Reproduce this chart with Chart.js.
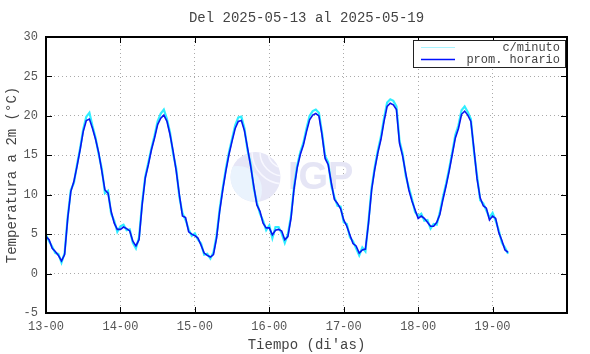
<!DOCTYPE html>
<html>
<head>
<meta charset="utf-8">
<script src="https://cdn.jsdelivr.net/npm/chart.js"></script>
<style>
    html, body { margin: 0; padding: 0; background: #fff; }
    #wrap { width: 590px; height: 354px; }
</style>
</head>
<body>
<div id="wrap"><canvas id="tempChart" width="590" height="354"></canvas></div>
<script>
// dias del periodo (eje x en horas desde 13-00)
const dias = ['13', '14', '15', '16', '17', '18', '19', '20'];
const yTicks = [-5, 0, 5, 10, 15, 20, 25, 30];

// promedio horario (°C), una lectura por hora
const horario13 = [4.7, 4.3, 3.2, 2.8, 2.3, 1.6, 2.4, 7.0, 10.4, 11.7, 13.6, 15.7, 18.0, 19.4, 19.6, 18.4, 17.0, 15.3, 13.0, 10.6, 10.2, 7.9, 6.4, 5.6];
const horario14 = [5.6, 5.9, 5.7, 5.4, 4.1, 3.5, 4.3, 8.7, 12.1, 13.8, 15.7, 17.2, 18.9, 19.7, 20.1, 19.3, 17.6, 15.5, 13.0, 10.0, 7.3, 7.1, 5.3, 5.0];
const horario15 = [4.8, 4.5, 3.6, 2.6, 2.3, 2.1, 2.4, 4.5, 7.9, 10.6, 13.0, 15.1, 16.8, 18.4, 19.3, 19.4, 18.1, 15.9, 13.6, 11.1, 8.7, 7.9, 6.4, 5.8];
const horario16 = [5.8, 4.9, 5.5, 5.6, 5.4, 4.3, 4.7, 7.0, 10.8, 13.4, 15.1, 16.3, 18.0, 19.5, 20.1, 20.3, 20.0, 17.6, 14.6, 13.8, 11.5, 9.4, 8.9, 8.2];
const horario17 = [6.8, 6.0, 4.9, 3.8, 3.5, 2.6, 3.0, 3.1, 6.4, 10.6, 13.2, 15.3, 17.0, 19.3, 21.2, 21.6, 21.4, 20.8, 16.5, 14.9, 12.7, 10.6, 9.2, 8.1];
const horario18 = [7.0, 7.3, 7.0, 6.5, 6.0, 6.0, 6.5, 7.5, 9.4, 11.1, 13.0, 15.1, 17.2, 18.4, 20.2, 20.6, 20.1, 19.3, 15.8, 12.0, 9.6, 8.6, 8.3, 6.8];
const horario19 = [7.3, 7.0, 5.2, 4.2, 3.0, 2.7];

// c/minuto (lecturas con picos, leidas a la misma hora)
const minuto13 = [4.9, 4.1, 3.4, 2.6, 2.5, 1.4, 2.6, 7.2, 10.6, 11.5, 13.8, 15.9, 18.3, 19.9, 20.4, 18.7, 17.2, 15.1, 13.3, 10.2, 10.5, 7.6, 6.7, 5.3];
const minuto14 = [6.0, 6.2, 5.5, 5.6, 3.9, 3.2, 4.6, 9.0, 12.3, 14.1, 15.9, 17.5, 19.3, 20.3, 20.8, 19.6, 17.9, 15.2, 13.3, 9.7, 7.7, 6.8, 5.6, 4.8];
const minuto15 = [5.1, 4.3, 3.8, 2.4, 2.5, 1.9, 2.7, 4.8, 8.2, 10.9, 13.3, 15.4, 17.1, 18.8, 19.8, 19.9, 18.4, 15.6, 13.9, 10.8, 9.0, 7.6, 6.7, 5.5];
const minuto16 = [6.1, 4.5, 5.9, 5.9, 5.1, 3.9, 5.0, 7.3, 11.1, 13.7, 15.4, 16.6, 18.4, 20.0, 20.6, 20.8, 20.4, 17.9, 14.9, 14.1, 11.2, 9.7, 8.6, 8.5];
const minuto17 = [6.5, 6.3, 4.6, 4.1, 3.2, 2.3, 3.3, 2.8, 6.7, 10.9, 13.5, 15.6, 17.4, 19.7, 21.7, 22.1, 21.9, 21.2, 16.8, 15.2, 12.4, 10.9, 9.5, 7.8];
const minuto18 = [7.3, 7.6, 6.7, 6.8, 5.7, 6.3, 6.2, 7.8, 9.7, 11.4, 13.3, 15.4, 17.6, 18.8, 20.7, 21.2, 20.5, 19.6, 15.5, 12.4, 9.3, 8.9, 8.0, 7.1];
const minuto19 = [7.7, 6.7, 5.5, 3.9, 3.3, 2.5];

const FONT = "'Liberation Mono', 'DejaVu Sans Mono', monospace";

document.addEventListener('DOMContentLoaded', () => {
    renderChart();
});

function toPoints(days) {
    const pts = [];
    days.forEach((vals, d) => {
        vals.forEach((v, h) => pts.push({ x: d * 24 + h, y: v }));
    });
    return pts;
}

// marco negro, marcas de ticks hacia adentro, titulo, leyenda
const framePlugin = {
    id: 'frame',
    beforeDatasetsDraw(chart) {
        const ctx = chart.ctx;
        ctx.save();
        // logo de fondo
        ctx.fillStyle = '#e6e6f6';
        ctx.beginPath();
        ctx.arc(255.5, 177, 25, 0, Math.PI * 2);
        ctx.fill();
        ctx.save();
        ctx.clip();
        ctx.fillStyle = '#eaf3fd';
        ctx.beginPath();
        ctx.arc(238, 190, 24, 0, Math.PI * 2);
        ctx.fill();
        ctx.strokeStyle = '#f8f8ff';
        ctx.lineWidth = 1.5;
        [16, 24, 32].forEach(r => {
            ctx.beginPath();
            ctx.arc(284, 152, r, Math.PI * 0.5, Math.PI * 1.1);
            ctx.stroke();
        });
        ctx.restore();
        ctx.fillStyle = '#e5e5f5';
        ctx.font = "bold 38px 'Liberation Sans', Arial, sans-serif";
        ctx.textAlign = 'left';
        ctx.textBaseline = 'alphabetic';
        ctx.fillText('IGP', 288, 189);
        ctx.restore();
    },
    afterDraw(chart) {
        const ctx = chart.ctx;
        const a = chart.chartArea;
        const xs = chart.scales.x;
        const ys = chart.scales.y;
        ctx.save();
        ctx.strokeStyle = '#000';
        ctx.lineWidth = 1;
        for (let d = 1; d < 7; d++) {
            const px = Math.round(xs.getPixelForValue(d * 24)) + 0.5;
            ctx.beginPath();
            ctx.moveTo(px, a.top); ctx.lineTo(px, a.top + 6);
            ctx.moveTo(px, a.bottom); ctx.lineTo(px, a.bottom - 6);
            ctx.stroke();
        }
        yTicks.forEach(t => {
            const py = Math.round(ys.getPixelForValue(t)) + 0.5;
            ctx.beginPath();
            ctx.moveTo(a.left, py); ctx.lineTo(a.left + 6, py);
            ctx.moveTo(a.right, py); ctx.lineTo(a.right - 6, py);
            ctx.stroke();
        });
        ctx.lineWidth = 2;
        ctx.strokeRect(a.left, a.top, a.right - a.left, a.bottom - a.top);

        // titulo
        ctx.fillStyle = '#444';
        ctx.font = '14px ' + FONT;
        ctx.textAlign = 'center';
        ctx.textBaseline = 'middle';
        ctx.fillText('Del 2025-05-13 al 2025-05-19', (a.left + a.right) / 2, 18);

        // leyenda
        ctx.fillStyle = '#fff';
        ctx.fillRect(413.5, 40.5, 152, 27);
        ctx.strokeStyle = '#222';
        ctx.lineWidth = 1;
        ctx.strokeRect(413.5, 40.5, 152, 27);
        ctx.strokeStyle = '#a8f4ff';
        ctx.beginPath(); ctx.moveTo(421, 47.5); ctx.lineTo(455, 47.5); ctx.stroke();
        ctx.strokeStyle = '#0010ff';
        ctx.lineWidth = 1.5;
        ctx.beginPath(); ctx.moveTo(421, 59.5); ctx.lineTo(455, 59.5); ctx.stroke();
        ctx.fillStyle = '#444';
        ctx.font = '12px ' + FONT;
        ctx.textAlign = 'right';
        ctx.fillText('c/minuto', 560, 48);
        ctx.fillText('prom. horario', 560, 60);
        ctx.restore();
    }
};

function renderChart() {
    const ctx = document.getElementById('tempChart').getContext('2d');
    const promHorario = toPoints([horario13, horario14, horario15, horario16, horario17, horario18, horario19]);
    const porMinuto = toPoints([minuto13, minuto14, minuto15, minuto16, minuto17, minuto18, minuto19]);

    new Chart(ctx, {
        type: 'line',
        data: {
            datasets: [
                {
                    label: 'prom. horario',
                    data: promHorario,
                    borderColor: '#0a14f0',
                    borderWidth: 1.6,
                    pointRadius: 0,
                    tension: 0,
                    order: 1,
                },
                {
                    label: 'c/minuto',
                    data: porMinuto,
                    borderColor: '#30eeff',
                    borderWidth: 2.2,
                    pointRadius: 0,
                    tension: 0,
                    order: 2,
                },
            ],
        },
        options: {
            responsive: false,
            animation: false,
            devicePixelRatio: 1,
            layout: { padding: { left: 0, top: 37, right: 23, bottom: 0 } },
            plugins: {
                legend: { display: false },
                title: { display: false },
                tooltip: { enabled: false },
            },
            scales: {
                x: {
                    type: 'linear',
                    min: 0,
                    max: 168,
                    afterFit: s => { s.height = 41; },
                    afterBuildTicks: s => { s.ticks = dias.map((d, i) => ({ value: i * 24 })); },
                    ticks: {
                        autoSkip: false,
                        maxRotation: 0,
                        padding: 7,
                        color: '#555',
                        font: { family: FONT, size: 12 },
                        callback: v => (v < 168 ? dias[v / 24] + '-00' : ''),
                    },
                    grid: { color: '#aaa', lineWidth: 1, drawTicks: false },
                    border: { display: false, dash: [1, 3] },
                    title: {
                        display: true,
                        text: "Tiempo (di'as)",
                        color: '#444',
                        font: { family: FONT, size: 14 },
                        padding: { top: 0, bottom: 0 },
                    },
                },
                y: {
                    min: -5,
                    max: 30,
                    afterFit: s => { s.width = 46; },
                    afterBuildTicks: s => { s.ticks = yTicks.map(v => ({ value: v })); },
                    ticks: {
                        padding: 8,
                        color: '#555',
                        font: { family: FONT, size: 12 },
                    },
                    grid: { color: '#aaa', lineWidth: 1, drawTicks: false },
                    border: { display: false, dash: [1, 3] },
                    title: {
                        display: true,
                        text: 'Temperatura a 2m (°C)',
                        color: '#444',
                        font: { family: FONT, size: 14 },
                        padding: { top: 4, bottom: 0 },
                    },
                },
            },
        },
        plugins: [framePlugin],
    });
}
</script>
</body>
</html>
